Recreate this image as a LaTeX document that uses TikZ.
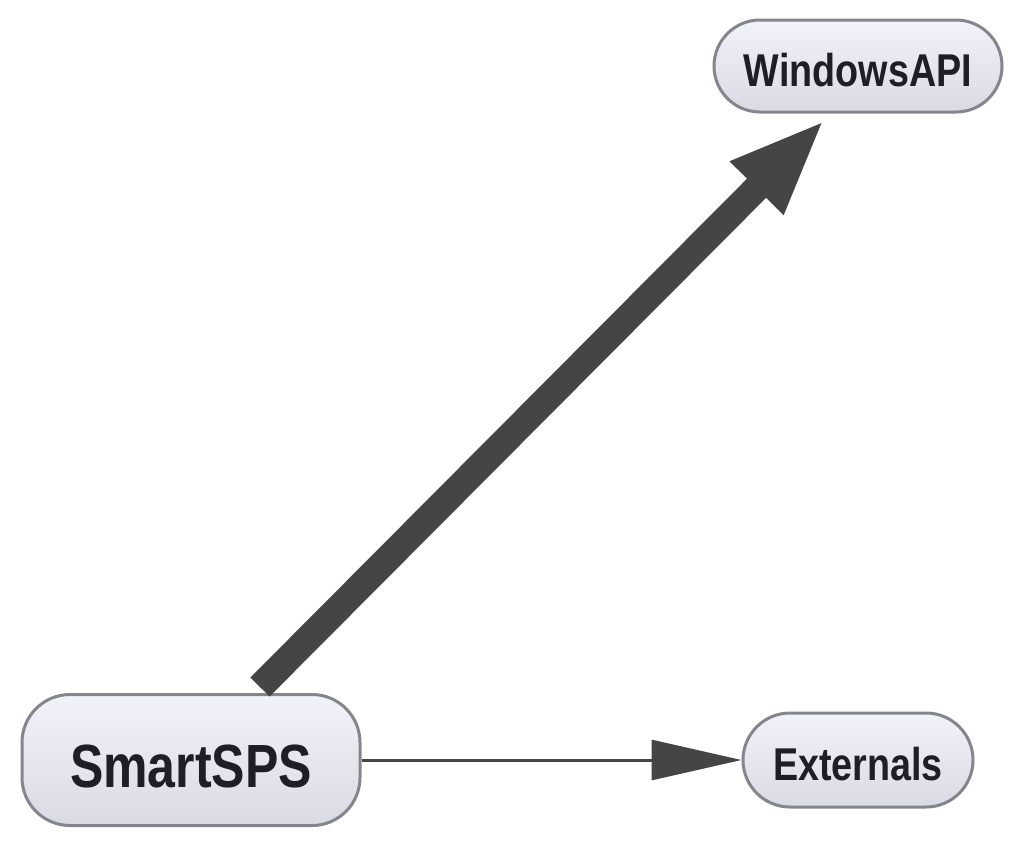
\documentclass[tikz,border=0pt]{standalone}
\usepackage{fontspec}
\newfontfamily\nodefont[FakeStretch=0.82]{Liberation Sans}
\usetikzlibrary{shapes.misc,arrows.meta,calc}
\definecolor{edgegray}{HTML}{454545}
\definecolor{bordergray}{HTML}{85858D}
\definecolor{filltop}{HTML}{F2F2FA}
\definecolor{fillbot}{HTML}{DADAE4}
\definecolor{textdark}{HTML}{1E1E28}
\tikzset{
  box/.style={draw=bordergray, line width=3pt, top color=filltop, bottom color=fillbot,
    inner sep=0pt, text=textdark, text height=40pt, text depth=0pt,
    font=\nodefont\bfseries\fontsize{46}{50}\selectfont},
  pill/.style={box, rounded rectangle},
  bigbox/.style={box, rectangle, rounded corners=48pt, text height=54pt,
    font=\nodefont\bfseries\fontsize{61}{66}\selectfont},
  thickedge/.style={draw=edgegray, line width=27pt, -{Triangle[length=97pt,width=68pt]}},
  thinedge/.style={draw=edgegray, line width=3pt, -{Triangle[length=90pt,width=40pt]}}
}
\begin{document}
\begin{tikzpicture}[x=1pt,y=-1pt]
\useasboundingbox (0,0) rectangle (1024,846);
\node[pill, minimum width=288pt, minimum height=92pt] (win) at (858,66) {WindowsAPI};
\node[pill, minimum width=230pt, minimum height=94pt] (ext) at (858,760) {Externals};
\node[bigbox, minimum width=338pt, minimum height=131pt] (smart) at (191,760) {SmartSPS};
\draw[thickedge] ($(smart.north)+(69,-6)$) -- ($(win.south)+(-33,6)$);
\draw[thinedge] (smart.east) -- (ext.west);
\end{tikzpicture}
\end{document}
